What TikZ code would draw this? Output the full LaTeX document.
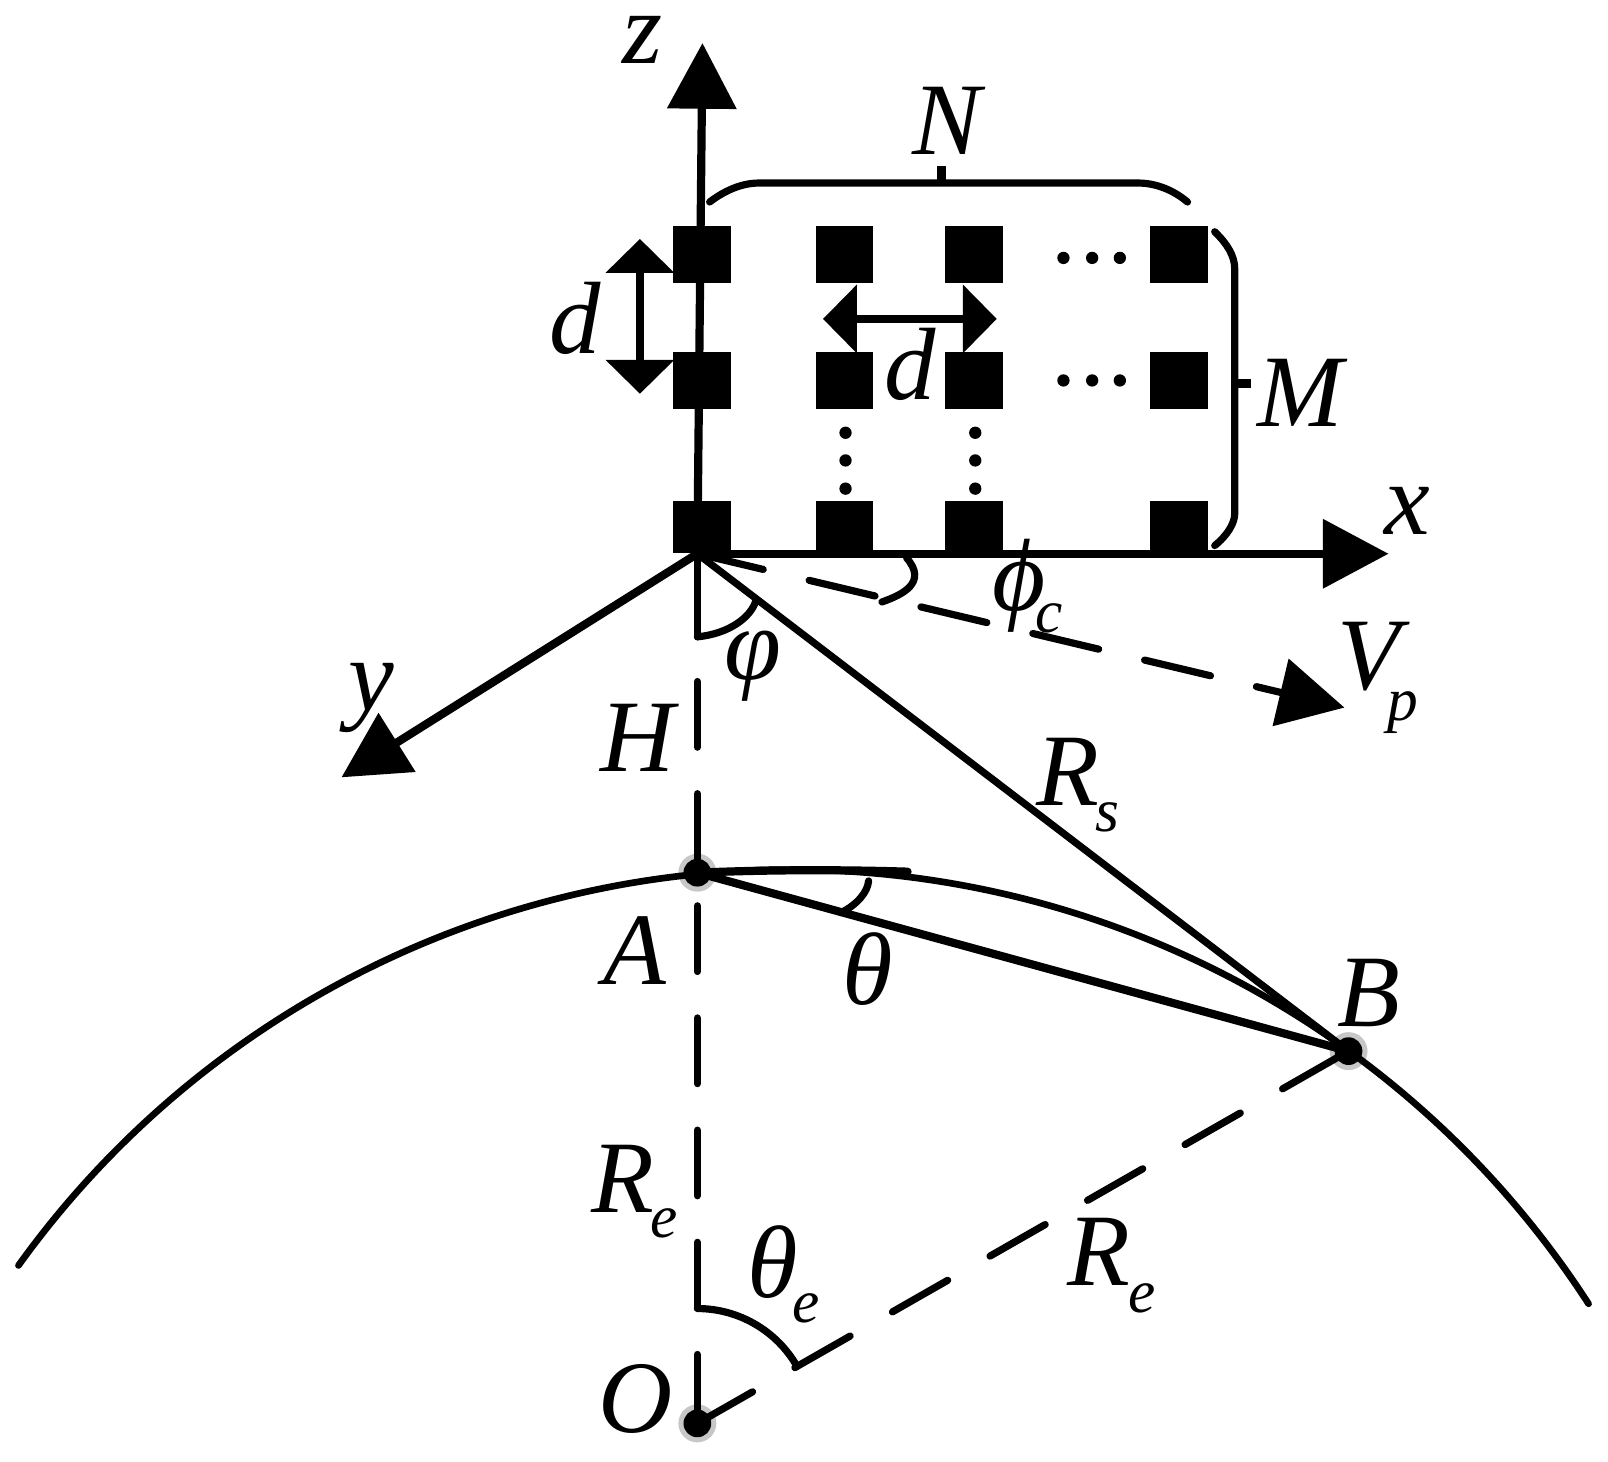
\documentclass[tikz,border=0pt]{standalone}
\usepackage{fontspec}
\setmainfont{Liberation Serif}
\usetikzlibrary{arrows.meta,calc}
\tikzset{
  x=0.01cm,y=-0.01cm,
  ln/.style={line width=0.07cm,black,line cap=round},
  thin ln/.style={line width=0.065cm,black,line cap=round},
  cell/.style={fill=black,inner sep=0,minimum width=0.565cm,minimum height=0.56cm},
  basecell/.style={cell,minimum height=0.5cm},
  dotmark/.style={circle,fill=black,inner sep=0,minimum size=0.12cm},
  ptdot/.style={circle,fill=black,inner sep=0,minimum size=0.27cm},
  halo/.style={circle,fill=black!22,inner sep=0,minimum size=0.37cm},
  txt/.style={anchor=base,inner sep=0,font=\fontsize{28.5}{30}\selectfont\itshape},
  subtxt/.style={anchor=base,inner sep=0,font=\fontsize{17}{18}\selectfont\itshape},
  big/.style={-{Triangle[length=0.64cm,width=0.66cm]}},
  dbl/.style={{Triangle[length=0.33cm,width=0.65cm]}-{Triangle[length=0.33cm,width=0.65cm]},line cap=butt},
}
\newcommand{\lab}[4]{\node[txt] (#1) at (#2,#3) {#4};}
\newcommand{\slab}[4]{\node[subtxt] (#1) at (#2,#3) {#4};}
\begin{document}
\begin{tikzpicture}
\useasboundingbox (0,0) rectangle (1568,1425.6);
% key points
\coordinate (P) at (680,540);
\coordinate (Ztip) at (685,42);
\coordinate (Xtip) at (1354,540);
\coordinate (Ytip) at (333,758);
\coordinate (Vtip) at (1311,690);
\coordinate (Hend) at (680,621);
\coordinate (Tan) at (885,850);
\coordinate (ArcL) at (18,1234);
\coordinate (Aa) at (680,851);
\node[halo] (Ah) at (680,851) {};
\node[halo] (Bh) at (1315,1025) {};
\node[halo] (Oh) at (680,1388) {};
% earth
\draw[thin ln] (ArcL) arc[start angle=215.7,end angle=327.1,radius=927];
% axes
\draw[ln,line width=0.08cm,big] (P) -- (Ztip);
\draw[ln,line width=0.08cm,big] (P) -- (Xtip);
\draw[ln,line width=0.08cm,big] (P) -- (Ytip);
\draw[ln,big,dash pattern=on 0.66cm off 0.46cm] (P) -- (Vtip);
% vertical and slant lines
\draw[ln] (P) -- (Hend);
\draw[ln,dash pattern=on 0.64cm off 0.453cm,dash phase=0.941cm] (P) -- (Oh.center);
\draw[ln] (P) -- (Bh.center);
\draw[ln,line width=0.08cm] (Ah.center) -- (Bh.center);
\draw[ln,line width=0.08cm] (Aa) .. controls (750,848) and (820,848) .. (Tan);
\draw[ln,dash pattern=on 0.62cm off 0.475cm] (Oh.center) -- (Bh.center);
% array
\foreach \n/\xx in {a/685,b/823.5,c/950,d/1149.5}{
  \node[cell] (\n1) at (\xx,248) {};
  \node[cell] (\n2) at (\xx,371) {};
  \node[basecell] (\n3) at (\xx,514) {};
}
\foreach \n/\xx in {1/1037,2/1065,3/1092}{
  \node[dotmark] (ra\n) at (\xx,251.5) {};
  \node[dotmark] (rb\n) at (\xx,371) {};
}
\foreach \n/\yy in {1/422,2/449,3/476.5}{
  \node[dotmark] (ca\n) at (824.5,\yy) {};
  \node[dotmark] (cb\n) at (951,\yy) {};
}
% point dots
\node[ptdot] (A) at (Ah) {};
\node[ptdot] (B) at (Bh) {};
\node[ptdot] (O) at (Oh) {};
% d arrows
\coordinate (dvt) at (624,233);
\coordinate (dvb) at (624,384);
\coordinate (dhl) at (802.5,311);
\coordinate (dhr) at (972,311);
\draw[ln,line width=0.08cm,dbl] (dvt) -- (dvb);
\draw[ln,line width=0.08cm,dbl] (dhl) -- (dhr);
% braces
\draw[ln] (692,197) .. controls (705,187) and (722,178.5) .. (740,178.5) -- (1110,178.5) .. controls (1128,178.5) and (1145,186) .. (1158,197);
\draw[ln,line width=0.08cm,line cap=butt] (918,178.5) -- (918,162);
\draw[ln] (1184.5,226) .. controls (1197,238) and (1204,250) .. (1204,262) -- (1204,501) .. controls (1204,510) and (1197,522) .. (1184.5,532);
\draw[ln,line width=0.08cm,line cap=butt] (1204,374) -- (1220,374);
% angle arcs
\draw[ln] (860,587) .. controls (880,580) and (905,568) .. (884,544);
\draw[ln] (Hend) .. controls (711,618) and (732,602) .. (737,586);
\draw[ln] (847,859) .. controls (846,870) and (836,882) .. (820,890);
\draw[ln] (680,1276) arc[start angle=270,end angle=330.2,radius=112];
% labels
\lab{lz}{627}{62}{z}
\lab{lN}{923.5}{151}{N}
\lab{lM}{1268}{416}{M}
\lab{ldl}{561}{345}{d}
\lab{ldm}{888}{390}{d}
\lab{lx}{1372}{521}{x}
\lab{lphic}{993.5}{595}{ϕ}
\slab{lc}{1023}{617}{c}
\lab{lvarphi}{734}{663}{φ}
\lab{lV}{1335}{672}{V}
\slab{lp}{1368}{703}{p}
\lab{ly}{362}{693}{y}
\lab{lH}{622}{752}{H}
\lab{lR}{1041}{785}{R}
\slab{ls}{1080}{811}{s}
\lab{lA}{619}{960}{A}
\lab{lth}{846}{980}{θ}
\lab{lB}{1335}{1001}{B}
\lab{lRe}{607}{1182}{R}
\slab{le}{648}{1207}{e}
\lab{lthe}{754}{1265}{θ}
\slab{lee}{786}{1290}{e}
\lab{lRr}{1072}{1254}{R}
\slab{ler}{1114}{1280}{e}
\lab{lO}{620}{1397}{O}
\end{tikzpicture}
\end{document}
